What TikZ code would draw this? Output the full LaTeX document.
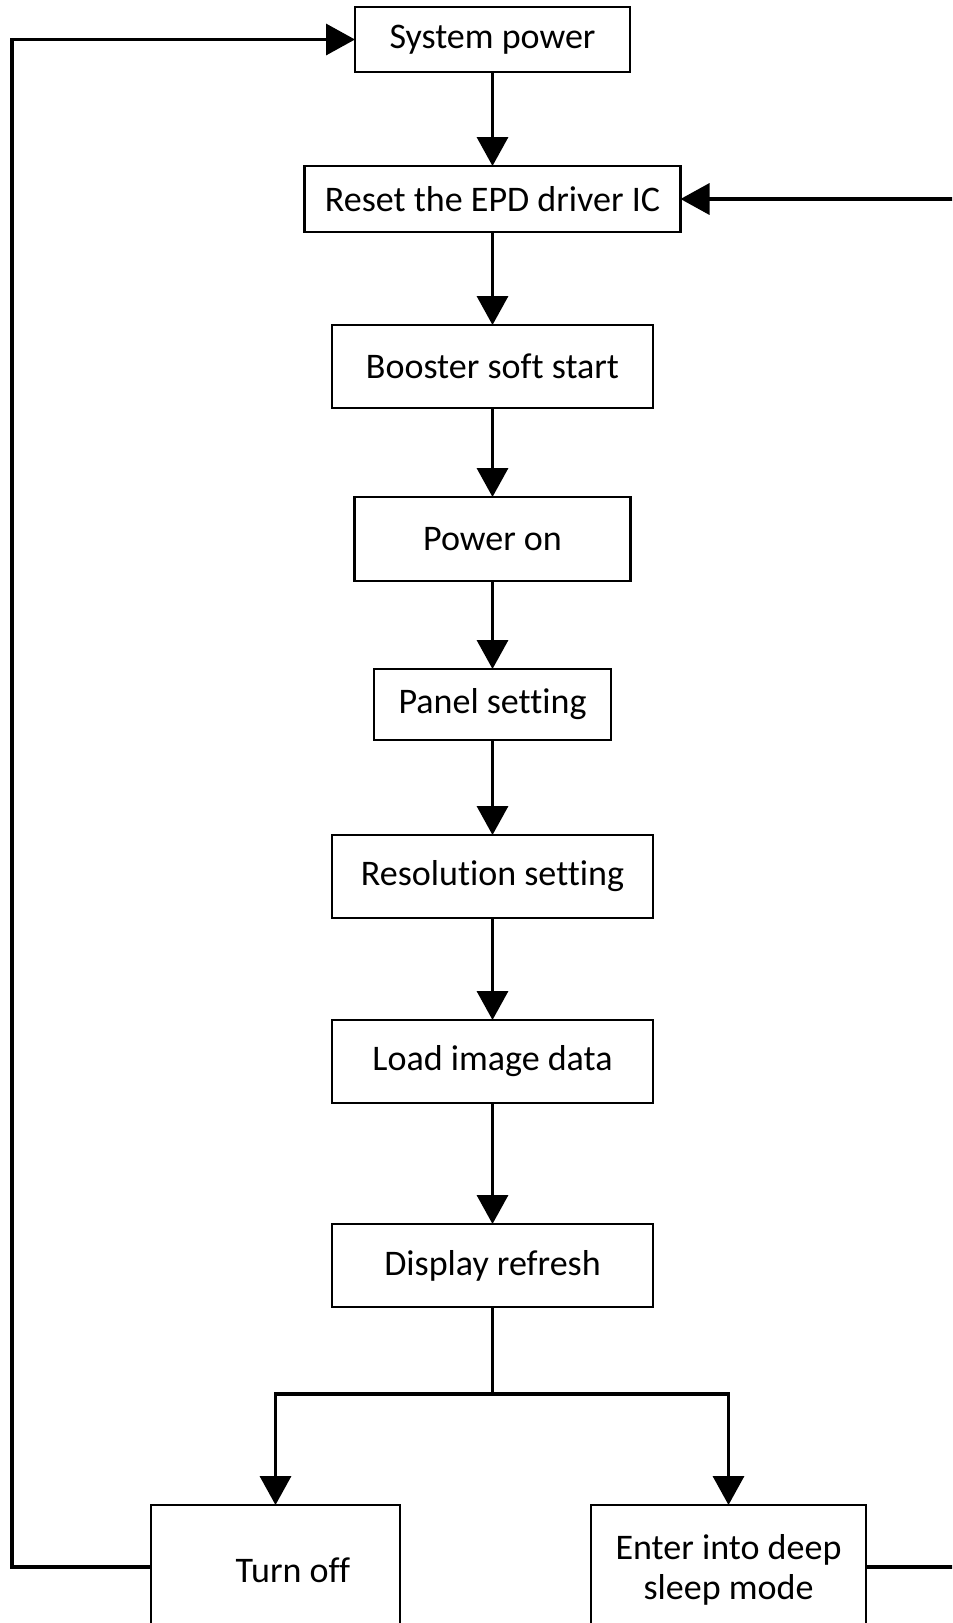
\documentclass[tikz,border=0pt]{standalone}
\usepackage{fontspec}
\setmainfont{Carlito}[Ligatures=NoCommon]
\usetikzlibrary{positioning, arrows.meta}

\begin{document}
\begin{tikzpicture}[
        every node/.style={rectangle, draw, line width=1.4pt, outer sep=0pt, align=center,
            font=\fontsize{20.5}{23}\selectfont, minimum width=6.42cm, minimum height=1.66cm},
        flow/.style={line width=2pt, -{Triangle[length=5.8mm, width=6.2mm]}},
        wire/.style={line width=2pt}
    ]
        \useasboundingbox (0,0) rectangle (19.04,-32.46);
        \clip (0,0) rectangle (19.04,-32.46);

        % Blocos
        \node (power) [minimum width=5.5cm, minimum height=1.3cm] at (9.85,-0.79) {System power};
        \node (reset) [below=1.88cm of power, minimum width=7.52cm, minimum height=1.32cm] {Reset the EPD driver IC};
        \node (booster) [below=1.86cm of reset] {Booster soft start};
        \node (poweron) [below=1.78cm of booster, minimum width=5.52cm, minimum height=1.68cm] {Power on};
        \node (panel) [below=1.76cm of poweron, minimum width=4.74cm, minimum height=1.42cm] {Panel setting};
        \node (resolution) [below=1.9cm of panel] {Resolution setting};
        \node (load) [below=2.04cm of resolution] {Load image data};
        \node (display) [below=2.42cm of load] {Display refresh};
        \node (off) [below=3.96cm of display, xshift=-4.34cm, minimum width=4.98cm, minimum height=2.6cm] {\hspace*{0.7cm}Turn off};
        \node (sleep) [below=3.96cm of display, xshift=4.72cm, minimum width=5.5cm, minimum height=2.6cm] {Enter into deep\\sleep mode};

        % Setas
        \draw[flow] (power) -- (reset);
        \draw[flow] (reset) -- (booster);
        \draw[flow] (booster) -- (poweron);
        \draw[flow] (poweron) -- (panel);
        \draw[flow] (panel) -- (resolution);
        \draw[flow] (resolution) -- (load);
        \draw[flow] (load) -- (display);

        % Ramos
        \draw[wire] (display.south) -- ++(0,-1.74) coordinate (split);
        \draw[flow] (split) -| (off.north);
        \draw[flow] (split) -| (sleep.north);

        % Retornos
        \draw[flow] ([yshift=0.06cm]off.west) -- ++(-2.78,0) |- (power.west);
        \draw[flow] ([yshift=0.06cm]sleep.east) -- ++(2,0) |- (reset.east);
    \end{tikzpicture}
\end{document}
